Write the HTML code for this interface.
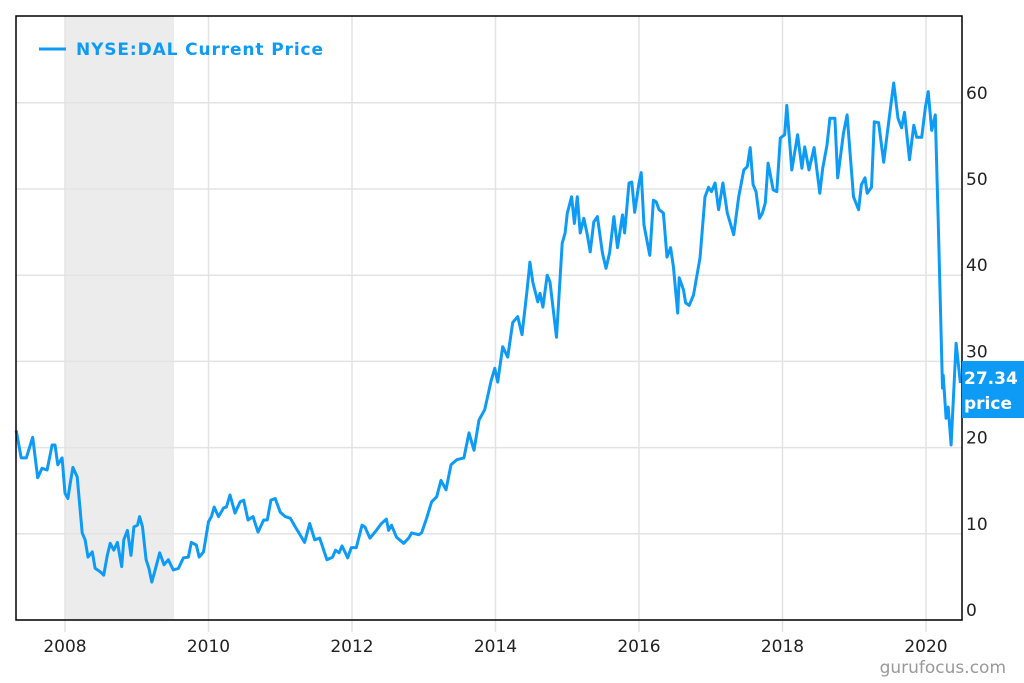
<!DOCTYPE html>
<html><head><meta charset="utf-8"><style>
html,body{margin:0;padding:0;background:#fff;}
svg{display:block;font-family:"DejaVu Sans","Liberation Sans",sans-serif;}
</style></head><body>
<svg id="chart" width="1024" height="683" viewBox="0 0 1024 683" xmlns="http://www.w3.org/2000/svg">
<g id="grid"></g>
<g id="axes"></g>
<path id="line" fill="none" stroke="#0d9bf6" stroke-width="3" stroke-linejoin="round"/>
<rect x="16" y="16" width="946" height="604" fill="none" stroke="#000" stroke-width="1.5"/>
<g>
<line x1="39" y1="49" x2="66" y2="49" stroke="#0d9bf6" stroke-width="3"/>
<text x="76" y="55" font-size="17" font-weight="bold" fill="#0d9bf6" textLength="247">NYSE:DAL Current Price</text>
</g>
<g>
<rect x="962" y="361" width="62" height="57" fill="#0d9bf6"/>
<text x="964" y="384" font-size="17" fill="#fff" font-weight="bold">27.34</text>
<text x="964" y="409" font-size="17" fill="#fff" font-weight="bold">price</text>
</g>
<text x="1006" y="673" font-size="17" fill="#999" text-anchor="end">gurufocus.com</text>
</svg>
<script>
const yTicks=[0,10,20,30,40,50,60];
const xTicks=[2008,2010,2012,2014,2016,2018,2020];
const recession=[2008.0,2009.52];
const dates=[2007.32,2007.39,2007.46,2007.55,2007.62,2007.68,2007.75,2007.82,2007.86,2007.90,2007.96,2008.00,2008.04,2008.07,2008.11,2008.17,2008.24,2008.28,2008.32,2008.38,2008.42,2008.49,2008.54,2008.59,2008.63,2008.68,2008.73,2008.79,2008.82,2008.87,2008.92,2008.96,2009.01,2009.04,2009.08,2009.13,2009.17,2009.21,2009.25,2009.32,2009.38,2009.44,2009.51,2009.58,2009.65,2009.72,2009.76,2009.83,2009.87,2009.93,2010.00,2010.04,2010.08,2010.14,2010.21,2010.25,2010.30,2010.37,2010.44,2010.49,2010.55,2010.62,2010.69,2010.77,2010.82,2010.87,2010.93,2011.00,2011.07,2011.14,2011.21,2011.34,2011.41,2011.48,2011.55,2011.65,2011.73,2011.77,2011.82,2011.86,2011.94,2011.99,2012.06,2012.14,2012.18,2012.25,2012.32,2012.41,2012.48,2012.51,2012.55,2012.62,2012.72,2012.79,2012.83,2012.93,2012.97,2013.04,2013.11,2013.18,2013.24,2013.31,2013.38,2013.46,2013.56,2013.63,2013.70,2013.77,2013.85,2013.94,2013.99,2014.03,2014.10,2014.17,2014.24,2014.31,2014.37,2014.44,2014.48,2014.52,2014.59,2014.62,2014.66,2014.72,2014.76,2014.85,2014.93,2014.97,2015.00,2015.06,2015.10,2015.14,2015.18,2015.23,2015.28,2015.32,2015.37,2015.42,2015.49,2015.54,2015.59,2015.65,2015.70,2015.77,2015.80,2015.86,2015.90,2015.94,2016.00,2016.03,2016.07,2016.15,2016.20,2016.24,2016.28,2016.34,2016.39,2016.44,2016.48,2016.54,2016.56,2016.62,2016.65,2016.70,2016.76,2016.85,2016.92,2016.97,2017.01,2017.06,2017.11,2017.17,2017.23,2017.32,2017.39,2017.46,2017.51,2017.55,2017.59,2017.63,2017.68,2017.72,2017.76,2017.80,2017.87,2017.92,2017.97,2018.03,2018.06,2018.13,2018.21,2018.27,2018.31,2018.37,2018.44,2018.52,2018.56,2018.62,2018.66,2018.73,2018.77,2018.85,2018.90,2018.99,2019.06,2019.10,2019.15,2019.18,2019.24,2019.28,2019.34,2019.41,2019.46,2019.55,2019.61,2019.66,2019.70,2019.77,2019.83,2019.87,2019.94,2019.99,2020.03,2020.08,2020.13,2020.17,2020.23,2020.24,2020.28,2020.31,2020.35,2020.42,2020.48];
const prices=[22,18.8,18.8,21.2,16.5,17.6,17.4,20.3,20.3,18,18.8,14.7,14.1,15.7,17.7,16.6,10.1,9.3,7.3,7.9,6.0,5.6,5.2,7.5,8.9,8.1,9.0,6.2,9.3,10.4,7.5,10.8,11,12,10.8,7,6,4.4,5.6,7.8,6.4,7,5.8,6,7.2,7.3,9,8.7,7.3,7.9,11.4,12,13.1,12,13,13.1,14.5,12.4,13.7,13.9,11.6,12,10.2,11.6,11.6,13.9,14.1,12.5,12,11.8,10.8,9,11.2,9.3,9.5,7,7.3,8.1,7.8,8.6,7.2,8.4,8.4,11,10.8,9.5,10.2,11.2,11.7,10.4,11,9.6,8.9,9.5,10.1,9.9,10.1,11.8,13.7,14.3,16.2,15.1,18,18.6,18.8,21.7,19.7,23.2,24.4,27.8,29.2,27.6,31.7,30.5,34.5,35.2,33.1,38.3,41.5,39.2,36.9,37.9,36.3,40,39.2,32.8,43.7,44.9,47.2,49.1,46,49.1,44.9,46.6,44.7,42.7,46.2,46.8,42.6,40.8,42.6,46.8,43.2,47,44.9,50.7,50.8,47.3,50.7,51.9,45.8,42.3,48.7,48.5,47.6,47.2,42.1,43.2,41,35.6,39.7,38.3,36.8,36.5,37.7,42,49.1,50.2,49.7,50.7,47.6,50.7,47.2,44.7,49.1,52.2,52.6,54.8,50.5,49.7,46.6,47.2,48.4,53,49.9,49.7,55.9,56.3,59.7,52.2,56.3,52.4,54.9,52.2,54.8,49.5,52.4,55.1,58.2,58.2,51.3,56.5,58.6,49.1,47.6,50.5,51.3,49.5,50.2,57.8,57.7,53.1,56.5,62.3,58.2,57.1,58.9,53.4,57.4,56,56,59.4,61.3,56.8,58.6,46.4,26.9,28.4,23.4,24.7,20.3,32.1,27.5];
const NS='http://www.w3.org/2000/svg';
const X=t=>65+(t-2008)*71.75;
const Y=v=>620-v*8.62;
const grid=document.getElementById('grid');
const axes=document.getElementById('axes');
function mk(tag,attrs,parent){const e=document.createElementNS(NS,tag);for(const k in attrs)e.setAttribute(k,attrs[k]);parent.appendChild(e);return e;}
const rs=mk('rect',{x:X(recession[0]),y:16,width:X(recession[1])-X(recession[0]),height:604,fill:'#ececec'},grid);


yTicks.forEach(v=>{
  const l=mk('line',{x1:16,x2:962,y1:Y(v),y2:Y(v),stroke:'#e3e3e3','stroke-width':1.5},grid);
  
  
  const t=mk('text',{x:966,y:Y(v)-4,'font-size':17,fill:'#222'},axes);
  t.textContent=v;
  
  
});
xTicks.forEach(v=>{
  const l=mk('line',{x1:X(v),x2:X(v),y1:16,y2:632,stroke:'#e3e3e3','stroke-width':1.5},grid);
  
  
  const t=mk('text',{x:X(v),y:652,'font-size':17,fill:'#222','text-anchor':'middle'},axes);
  t.textContent=v;
  
  
});
let d='';
dates.forEach((t,i)=>{d+=(i?'L':'M')+X(t).toFixed(1)+','+Y(prices[i]).toFixed(1);});
document.getElementById('line').setAttribute('d',d);
</script>
</body></html>
